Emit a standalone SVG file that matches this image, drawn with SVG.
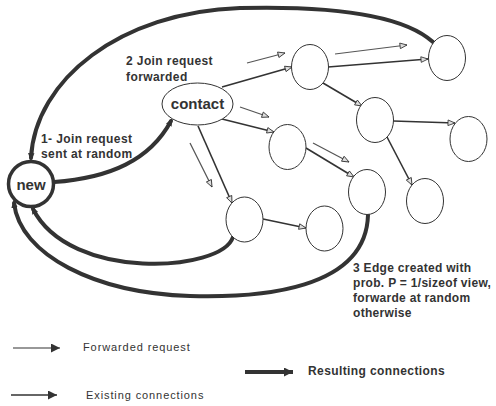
<svg xmlns="http://www.w3.org/2000/svg" width="496" height="406" viewBox="0 0 496 406">
<style>
.node{fill:#fff;stroke:#333;stroke-width:1}
.thick{fill:none;stroke:#333;stroke-width:4;stroke-linecap:round}
.edge{fill:none;stroke:#333;stroke-width:1.6}
.fwd{fill:none;stroke:#555;stroke-width:1.2}
.t{font-family:"Liberation Sans",Arial,sans-serif;fill:#333}
.b{font-weight:bold}
</style>
<defs>
<marker id="open" viewBox="0 0 10 10" refX="10" refY="5" markerWidth="9" markerHeight="7" markerUnits="userSpaceOnUse" orient="auto">
<path d="M0,1 L10,5 L0,9 Z" fill="#ddd" stroke="#333" stroke-width="1.2"/>
</marker>
<marker id="thickhead" viewBox="0 0 10 10" refX="6" refY="5" markerWidth="8" markerHeight="8" markerUnits="userSpaceOnUse" orient="auto">
<path d="M0,1 L10,5 L0,9 Z" fill="#333"/>
</marker>
<marker id="solid" viewBox="0 0 10 10" refX="10" refY="5" markerWidth="16" markerHeight="9" markerUnits="userSpaceOnUse" orient="auto">
<path d="M0,0 L10,5 L0,10 Z" fill="#333"/>
</marker>
</defs>
<g id="connectors">
<path class="thick" d="M54,182 C110,178 150,160 171,121" marker-end="url(#thickhead)"/>
<path class="thick" d="M433,42 C400,12 320,6 240,8 C120,12 35,80 31,158" marker-end="url(#thickhead)"/>
<path class="thick" d="M233,237 C222,272 70,282 33,209" marker-end="url(#thickhead)"/>
<path class="thick" d="M368,215 C366,290 260,298 190,296 C95,293 20,255 14,203" marker-end="url(#thickhead)"/>
<path class="edge" d="M222,87 L292,67" marker-end="url(#open)"/>
<path class="edge" d="M328,67 L428,59" marker-end="url(#open)"/>
<path class="edge" d="M323,83 L362,106" marker-end="url(#open)"/>
<path class="edge" d="M393,121 L455,123" marker-end="url(#open)"/>
<path class="edge" d="M387,137 L412,185" marker-end="url(#open)"/>
<path class="edge" d="M222,119 L274,132" marker-end="url(#open)"/>
<path class="edge" d="M306,148 L354,177" marker-end="url(#open)"/>
<path class="edge" d="M198,126 L232,203" marker-end="url(#open)"/>
<path class="edge" d="M263,219 L306,228" marker-end="url(#open)"/>
<path class="fwd" d="M247,63 L285,53" marker-end="url(#open)"/>
<path class="fwd" d="M335,54 L407,45" marker-end="url(#open)"/>
<path class="fwd" d="M240,107 L269,117" marker-end="url(#open)"/>
<path class="fwd" d="M313,143 L349,162" marker-end="url(#open)"/>
<path class="fwd" d="M190,143 L212,187" marker-end="url(#open)"/>
</g>
<g id="new"><circle cx="31" cy="184" r="22.5" fill="#fff" stroke="#333" stroke-width="3.5"/><text class="t b" x="31" y="190" font-size="15" text-anchor="middle">new</text></g>
<g id="contact"><ellipse class="node" cx="197.5" cy="104" rx="35.5" ry="21"/><text class="t b" x="197.5" y="109" font-size="15" text-anchor="middle">contact</text></g>
<g id="nA"><ellipse class="node" cx="310" cy="67" rx="18.5" ry="22.5"/></g>
<g id="nB"><ellipse class="node" cx="447" cy="58" rx="18.5" ry="22.5"/></g>
<g id="nC"><ellipse class="node" cx="375" cy="120" rx="18.5" ry="22.5"/></g>
<g id="nD"><ellipse class="node" cx="468.5" cy="139" rx="18.5" ry="22.5"/></g>
<g id="nE"><ellipse class="node" cx="287.5" cy="147" rx="18.5" ry="22.5"/></g>
<g id="nF"><ellipse class="node" cx="367" cy="192" rx="18.5" ry="22.5"/></g>
<g id="nG"><ellipse class="node" cx="425" cy="201" rx="18.5" ry="22.5"/></g>
<g id="nH"><ellipse class="node" cx="244.5" cy="219.5" rx="18.5" ry="22.5"/></g>
<g id="nI"><ellipse class="node" cx="324.5" cy="228.5" rx="18.5" ry="22.5"/></g>
<g id="labels">
<text class="t b" x="126" y="65" font-size="12" letter-spacing="0.4">2 Join request</text>
<text class="t b" x="126" y="81" font-size="12" letter-spacing="0.4">forwarded</text>
<text class="t b" x="41" y="143" font-size="12" letter-spacing="0.4">1- Join request</text>
<text class="t b" x="41" y="158" font-size="12" letter-spacing="0.4">sent at random</text>
<text class="t b" x="353" y="272" font-size="12" letter-spacing="0.3">3 Edge created with</text>
<text class="t b" x="353" y="287" font-size="12" letter-spacing="0.3">prob. P = 1/sizeof view,</text>
<text class="t b" x="353" y="302" font-size="12" letter-spacing="0.3">forwarde at random</text>
<text class="t b" x="353" y="317" font-size="12" letter-spacing="0.3">otherwise</text>
</g>
<g id="legend">
<path d="M13,348 L60,348" stroke="#333" stroke-width="1.2" fill="none" marker-end="url(#solid)"/>
<text class="t" x="83" y="351" font-size="11" letter-spacing="0.9">Forwarded request</text>
<path d="M245,372 L293,372" stroke="#333" stroke-width="4" fill="none" marker-end="url(#solid)"/>
<text class="t b" x="308" y="375" font-size="12" letter-spacing="0.4">Resulting connections</text>
<path d="M11,395 L57,395" stroke="#333" stroke-width="1.5" fill="none" marker-end="url(#solid)"/>
<text class="t" x="86" y="399" font-size="11" letter-spacing="0.9">Existing connections</text>
</g>
</svg>
